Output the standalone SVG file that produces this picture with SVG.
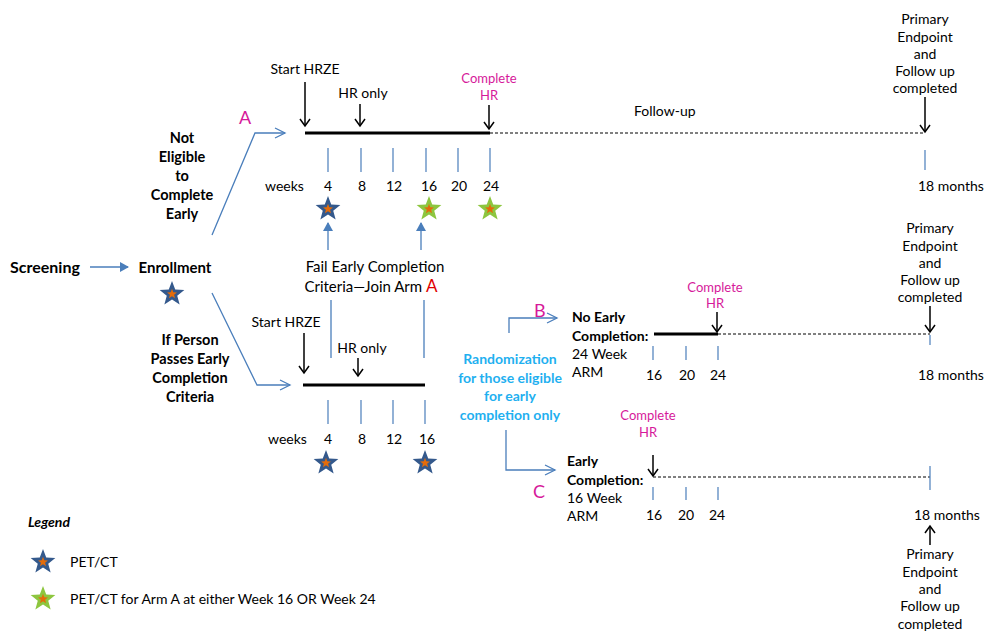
<svg xmlns="http://www.w3.org/2000/svg" xmlns:xlink="http://www.w3.org/1999/xlink" width="1000" height="641" viewBox="0 0 1000 641">
<style>
svg{font-size:14px}
text{font-family:Lato,"Open Sans","Liberation Sans",sans-serif;fill:#000}
.b{font-weight:bold}
.m{fill:#d6199a}
.c{text-anchor:middle}
.bl{stroke:#4a7ebb;stroke-width:1.3;fill:none}
.k{stroke:#000;stroke-width:1.5;fill:none}
.th{stroke:#000;stroke-width:3}
.d{stroke:#000;stroke-width:1;stroke-dasharray:3,2}
.t{stroke:#4a7ebb;stroke-width:1.2}
</style>
<defs>
<path id="sp" d="M0,-13L3.23,-4.45L12.36,-4.02L5.23,1.7L7.64,10.52L0,5.5L-7.64,10.52L-5.23,1.7L-12.36,-4.02L-3.23,-4.45Z"/>
<g id="bs"><use xlink:href="#sp" fill="#34598c"/><use xlink:href="#sp" fill="#e46c0a" transform="scale(0.4)"/></g>
<g id="gs"><use xlink:href="#sp" fill="#8dc63f"/><use xlink:href="#sp" fill="#e46c0a" transform="scale(0.4)"/></g>
<marker id="ka" markerWidth="12" markerHeight="12" refX="10" refY="6" orient="auto" markerUnits="userSpaceOnUse"><path d="M3,1L10,6L3,11" fill="none" stroke="#000" stroke-width="1.5"/></marker>
<marker id="ba" markerWidth="14" markerHeight="12" refX="12" refY="6" orient="auto" markerUnits="userSpaceOnUse"><path d="M2,1L12,6L2,11" fill="none" stroke="#4a7ebb" stroke-width="1.3"/></marker>
<marker id="bf" markerWidth="10" markerHeight="10" refX="8" refY="5" orient="auto" markerUnits="userSpaceOnUse"><path d="M0,0L9,5L0,10Z" fill="#4a7ebb"/></marker>
</defs>
<g id="connectors">
<line class="bl" x1="90" y1="267" x2="128" y2="267" marker-end="url(#bf)"/>
<polyline class="bl" points="212,235 255,133 285,133" marker-end="url(#ba)"/>
<polyline class="bl" points="212,293 257,385 290,385" marker-end="url(#ba)"/>
<polyline class="bl" points="509,333 509,318 557,318" marker-end="url(#ba)"/>
<polyline class="bl" points="506,430 506,470 555,470" marker-end="url(#ba)"/>
<line class="bl" stroke-width="2.2" x1="328" y1="250" x2="328" y2="223" marker-end="url(#bf)"/>
<line class="bl" stroke-width="2.2" x1="421" y1="250" x2="421" y2="223" marker-end="url(#bf)"/>
<line class="bl" stroke-width="2.2" x1="331" y1="300" x2="331" y2="358"/>
<line class="bl" stroke-width="2.2" x1="424" y1="300" x2="424" y2="358"/>
</g>
<g id="screening"><text class="b c" x="45" y="273" font-size="16">Screening</text></g>
<g id="enrollment"><text class="b c" x="175" y="273" font-size="15">Enrollment</text><use xlink:href="#bs" x="172" y="294"/></g>
<g id="not-eligible"><text class="b c" font-size="14.5"><tspan x="182" y="143">Not</tspan><tspan x="182" y="162">Eligible</tspan><tspan x="182" y="181">to</tspan><tspan x="182" y="200">Complete</tspan><tspan x="182" y="219">Early</tspan></text></g>
<g id="passes"><text class="b c" font-size="14.5"><tspan x="190" y="345">If Person</tspan><tspan x="190" y="364">Passes Early</tspan><tspan x="190" y="383">Completion</tspan><tspan x="190" y="402">Criteria</tspan></text></g>
<g id="arm-a">
<text class="m" x="239" y="124" font-size="18">A</text>
<line class="th" x1="305" y1="133" x2="490" y2="133"/>
<line class="d" x1="490" y1="133" x2="925" y2="133"/>
<text class="c" x="305" y="74">Start HRZE</text>
<line class="k" x1="305" y1="82" x2="305" y2="126" marker-end="url(#ka)"/>
<text class="c" x="363" y="98">HR only</text>
<line class="k" x1="360" y1="104" x2="360" y2="126" marker-end="url(#ka)"/>
<text class="m c" x="489" y="83" font-size="13">Complete</text><text class="m c" x="489" y="100" font-size="13">HR</text>
<line class="k" x1="489" y1="105" x2="489" y2="129" marker-end="url(#ka)"/>
<text x="634" y="116">Follow-up</text>
<g class="t"><line x1="328" y1="148" x2="328" y2="172"/><line x1="361" y1="148" x2="361" y2="172"/><line x1="393" y1="148" x2="393" y2="172"/><line x1="426" y1="148" x2="426" y2="172"/><line x1="458" y1="148" x2="458" y2="172"/><line x1="490" y1="148" x2="490" y2="172"/><line x1="925" y1="150" x2="925" y2="170"/></g>
<text x="265" y="191">weeks</text>
<text class="c" y="191"><tspan x="328">4</tspan><tspan x="362">8</tspan><tspan x="394">12</tspan><tspan x="429">16</tspan><tspan x="459">20</tspan><tspan x="491">24</tspan></text>
<text x="918" y="191">18  months</text>
<use xlink:href="#bs" x="328" y="209"/><use xlink:href="#gs" x="429" y="209"/><use xlink:href="#gs" x="490" y="209"/>
<text class="c"><tspan x="925" y="24">Primary</tspan><tspan x="925" y="42">Endpoint</tspan><tspan x="925" y="59">and</tspan><tspan x="925" y="76">Follow up</tspan><tspan x="925" y="93">completed</tspan></text>
<line class="k" x1="925" y1="97" x2="925" y2="132" marker-end="url(#ka)"/>
</g>
<g id="fail"><text class="c" font-size="15"><tspan x="375" y="272">Fail Early Completion</tspan><tspan x="371" y="292">Criteria—Join Arm <tspan fill="#e00000" font-size="17">A</tspan></tspan></text></g>
<g id="passes-arm">
<line class="th" x1="303" y1="385" x2="425" y2="385"/>
<text class="c" x="286" y="327">Start HRZE</text>
<line class="k" x1="304" y1="333" x2="304" y2="373" marker-end="url(#ka)"/>
<text class="c" x="362" y="353">HR only</text>
<line class="k" x1="358" y1="358" x2="358" y2="376" marker-end="url(#ka)"/>
<g class="t"><line x1="328" y1="400" x2="328" y2="424"/><line x1="361" y1="400" x2="361" y2="424"/><line x1="393" y1="400" x2="393" y2="424"/><line x1="425" y1="400" x2="425" y2="424"/></g>
<text x="268" y="444">weeks</text>
<text class="c" y="444"><tspan x="328">4</tspan><tspan x="362">8</tspan><tspan x="394">12</tspan><tspan x="427">16</tspan></text>
<use xlink:href="#bs" x="326" y="463"/><use xlink:href="#bs" x="425" y="463"/>
</g>
<g id="randomization"><text class="c b" style="fill:#1fb0f0" font-size="14"><tspan x="510" y="364">Randomization</tspan><tspan x="510" y="383">for those eligible</tspan><tspan x="510" y="401">for early</tspan><tspan x="510" y="420">completion only</tspan></text></g>
<g id="arm-b">
<text class="m" x="534" y="317" font-size="18">B</text>
<text class="b"><tspan x="572" y="322">No Early</tspan><tspan x="572" y="341">Completion:</tspan></text>
<text><tspan x="572" y="359">24 Week</tspan><tspan x="572" y="377">ARM</tspan></text>
<line class="th" x1="654" y1="334" x2="718" y2="334"/>
<line class="d" x1="718" y1="334" x2="930" y2="334"/>
<text class="m c" x="715" y="292" font-size="13">Complete</text><text class="m c" x="715" y="308" font-size="13">HR</text>
<line class="k" x1="717" y1="312" x2="717" y2="332" marker-end="url(#ka)"/>
<g class="t"><line x1="653" y1="346" x2="653" y2="360"/><line x1="686" y1="346" x2="686" y2="360"/><line x1="718" y1="346" x2="718" y2="360"/><line x1="930" y1="335" x2="930" y2="345"/></g>
<text class="c" y="380"><tspan x="654">16</tspan><tspan x="687">20</tspan><tspan x="718">24</tspan></text>
<text x="918" y="380">18 months</text>
<text class="c"><tspan x="930" y="233">Primary</tspan><tspan x="930" y="251">Endpoint</tspan><tspan x="930" y="268">and</tspan><tspan x="930" y="285">Follow up</tspan><tspan x="930" y="302">completed</tspan></text>
<line class="k" x1="930" y1="306" x2="930" y2="332" marker-end="url(#ka)"/>
</g>
<g id="arm-c">
<text class="m" x="533" y="498" font-size="18">C</text>
<text class="b"><tspan x="567" y="466">Early</tspan><tspan x="567" y="485">Completion:</tspan></text>
<text><tspan x="567" y="503">16 Week</tspan><tspan x="567" y="521">ARM</tspan></text>
<text class="m c" x="648" y="420" font-size="13">Complete</text><text class="m c" x="648" y="437" font-size="13">HR</text>
<line class="k" x1="653" y1="455" x2="653" y2="476" marker-end="url(#ka)"/>
<line class="d" x1="653" y1="477" x2="930" y2="477"/>
<g class="t"><line x1="653" y1="487" x2="653" y2="500"/><line x1="686" y1="487" x2="686" y2="500"/><line x1="718" y1="487" x2="718" y2="500"/><line x1="930" y1="466" x2="930" y2="490"/></g>
<text class="c" y="520"><tspan x="654">16</tspan><tspan x="686">20</tspan><tspan x="717">24</tspan></text>
<text x="914" y="520">18  months</text>
<line class="k" x1="930" y1="545" x2="930" y2="526" marker-end="url(#ka)"/>
<text class="c"><tspan x="930" y="559">Primary</tspan><tspan x="930" y="577">Endpoint</tspan><tspan x="930" y="594">and</tspan><tspan x="930" y="611">Follow up</tspan><tspan x="930" y="629">completed</tspan></text>
</g>
<g id="legend">
<text x="28" y="527" class="b" font-style="italic">Legend</text>
<use xlink:href="#bs" x="43" y="562"/><text x="70" y="567">PET/CT</text>
<use xlink:href="#gs" x="43" y="599"/><text x="70" y="604">PET/CT for Arm A at either Week 16 OR Week 24</text>
</g>
</svg>
